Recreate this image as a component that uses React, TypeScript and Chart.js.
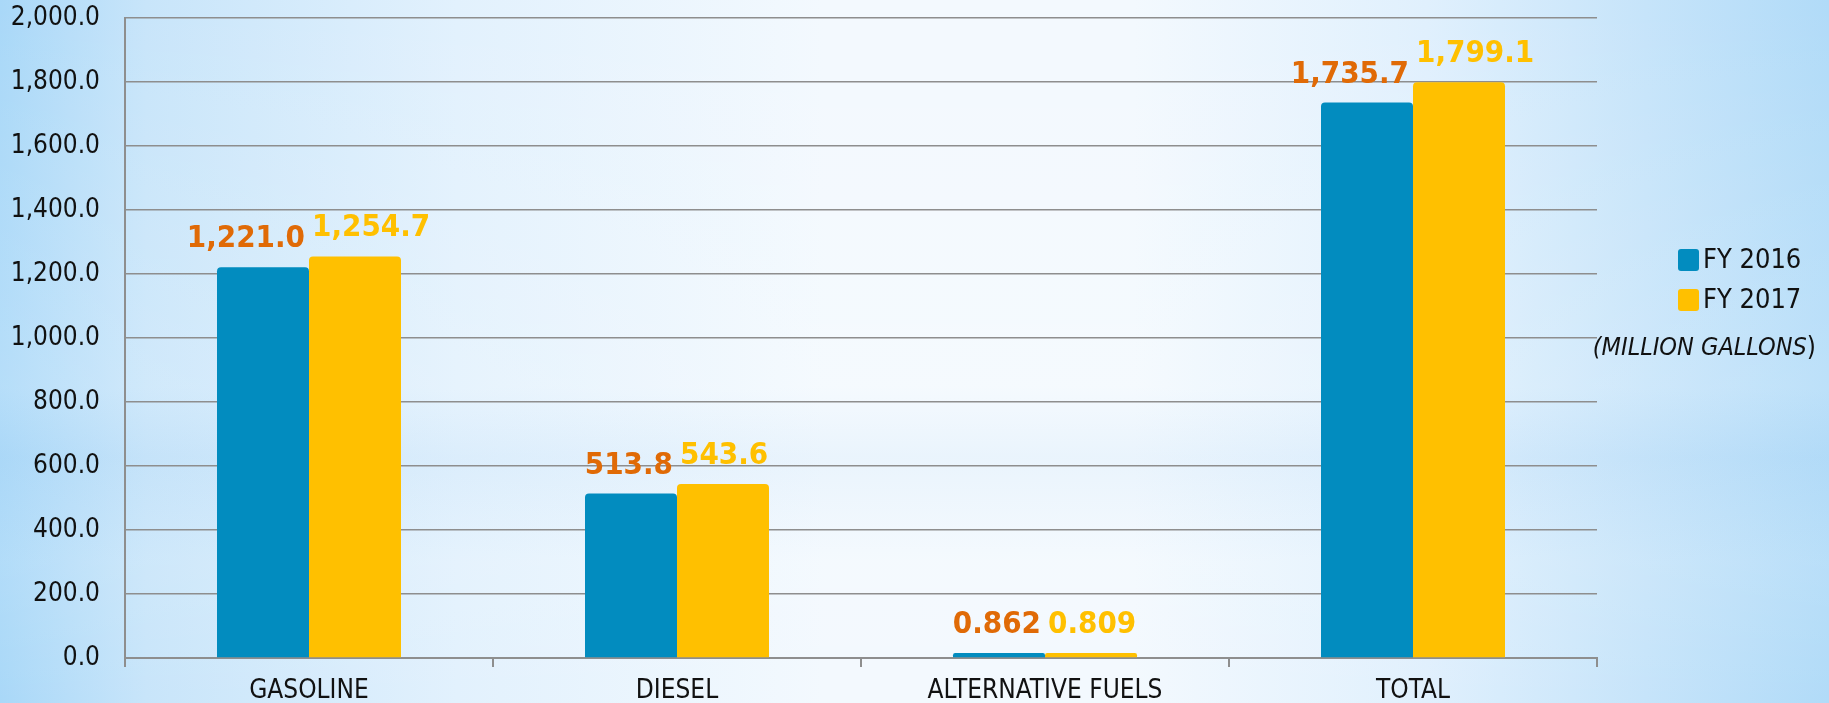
import { useEffect, useRef } from "react";
import { Chart, registerables } from "chart.js";

Chart.register(...registerables);

const categories = ["GASOLINE", "DIESEL", "ALTERNATIVE FUELS", "TOTAL"];
const seriesNames = ["FY 2016", "FY 2017"];
const fy2016 = [1221.0, 513.8, 0.862, 1735.7];
const fy2017 = [1254.7, 543.6, 0.809, 1799.1];
const labels2016 = ["1,221.0", "513.8", "0.862", "1,735.7"];
const labels2017 = ["1,254.7", "543.6", "0.809", "1,799.1"];
const unitText = "MILLION GALLONS";
const yMin = 0;
const yMax = 2000;
const yStep = 200;

const FONT = '"DejaVu Sans Condensed", "DejaVu Sans", sans-serif';
const BLUE = "#028cbf";
const YELLOW = "#ffc000";
const ORANGE = "#e06a06";
const GRID = "#8e8e8e";

const dataLabelPlugin = {
  id: "dataLabelPlugin",
  afterDatasetsDraw(chart: any) {
    const ctx = chart.ctx;
    ctx.save();
    ctx.font = `bold 31px ${FONT}`;
    ctx.textBaseline = "alphabetic";
    const all = [labels2016, labels2017];
    chart.data.datasets.forEach((_ds: any, di: number) => {
      const meta = chart.getDatasetMeta(di);
      meta.data.forEach((el: any, i: number) => {
        const txt = all[di][i];
        const half = el.width / 2;
        if (di === 0) {
          ctx.fillStyle = ORANGE;
          ctx.textAlign = "right";
          ctx.fillText(txt, el.x + half - 4, el.y - 20);
        } else {
          ctx.fillStyle = YELLOW;
          ctx.textAlign = "left";
          ctx.fillText(txt, el.x - half + 3, el.y - 20);
        }
      });
    });
    ctx.restore();
  },
};

const legendPlugin = {
  id: "customLegend",
  afterDraw(chart: any) {
    const ctx = chart.ctx;
    const area = chart.chartArea;
    ctx.save();
    const boxX = area.right + 81;
    const rows = [260, 300];
    chart.data.datasets.forEach((ds: any, i: number) => {
      const cy = rows[i];
      ctx.fillStyle = ds.backgroundColor;
      ctx.beginPath();
      (ctx as any).roundRect(boxX, cy - 11, 21, 22, 3);
      ctx.fill();
      ctx.fillStyle = "#111";
      ctx.font = `27px ${FONT}`;
      ctx.textAlign = "left";
      ctx.textBaseline = "middle";
      ctx.fillText(ds.label, boxX + 25, cy + 1);
    });
    ctx.font = `26px ${FONT}`;
    const close = ")";
    const wClose = ctx.measureText(close).width;
    const right = 1816;
    ctx.textAlign = "right";
    ctx.textBaseline = "middle";
    ctx.fillText(close, right, 348);
    ctx.font = `italic 25px ${FONT}`;
    ctx.fillText("(" + unitText, right - wClose, 348);
    ctx.restore();
  },
};

export default function App() {
  const ref = useRef<HTMLCanvasElement | null>(null);

  useEffect(() => {
    document.body.style.margin = "0";
    const canvas = ref.current;
    if (!canvas) return;
    const chart = new Chart(canvas, {
      type: "bar",
      data: {
        labels: categories,
        datasets: [
          {
            label: seriesNames[0],
            data: fy2016,
            backgroundColor: BLUE,
            borderRadius: { topLeft: 4, topRight: 4, bottomLeft: 0, bottomRight: 0 },
            borderSkipped: "bottom",
            categoryPercentage: 0.5,
            barPercentage: 1.0,
            minBarLength: 5,
          },
          {
            label: seriesNames[1],
            data: fy2017,
            backgroundColor: YELLOW,
            borderRadius: { topLeft: 4, topRight: 4, bottomLeft: 0, bottomRight: 0 },
            borderSkipped: "bottom",
            categoryPercentage: 0.5,
            barPercentage: 1.0,
            minBarLength: 5,
          },
        ],
      },
      options: {
        animation: false,
        responsive: true,
        maintainAspectRatio: false,
        layout: { padding: { top: 18, right: 232, left: 0, bottom: 0 } },
        plugins: {
          legend: { display: false },
          tooltip: { enabled: false },
        },
        scales: {
          x: {
            grid: {
              display: true,
              drawOnChartArea: false,
              drawTicks: true,
              tickLength: 9,
              color: GRID,
              lineWidth: 2,
              offset: true,
            },
            border: { display: true, color: GRID, width: 2 },
            ticks: {
              color: "#111",
              font: { family: FONT, size: 26 },
              padding: 9,
              maxRotation: 0,
            },
            afterFit(scale: any) {
              scale.height = 45;
              scale.paddingLeft = 0;
              scale.paddingRight = 0;
            },
          },
          y: {
            min: yMin,
            max: yMax,
            grid: { color: GRID, lineWidth: 1.5, drawTicks: false },
            border: { display: true, color: GRID, width: 2 },
            ticks: {
              stepSize: yStep,
              color: "#111",
              font: { family: FONT, size: 26 },
              padding: 25,
              callback: (v: any) =>
                Number(v).toLocaleString("en-US", {
                  minimumFractionDigits: 1,
                  maximumFractionDigits: 1,
                }),
            },
            afterFit(scale: any) {
              scale.width = 125;
              scale.paddingTop = 0;
              scale.paddingBottom = 0;
            },
          },
        },
      },
      plugins: [dataLabelPlugin, legendPlugin],
    });
    return () => chart.destroy();
  }, []);

  return (
    <div
      style={{
        width: 1829,
        height: 703,
        position: "relative",
        background:
          "linear-gradient(to right, #a9d8f8 0%, #c8e5fa 8%, #e2f1fd 25%, #f3f9fe 45%, #f3f9fe 62%, #e0f0fd 78%, #c6e4fa 90%, #b1dbf8 100%)",
      }}
    >
      <div
        style={{
          position: "absolute",
          inset: 0,
          background:
            "linear-gradient(to bottom, rgba(255,255,255,0) 0%, rgba(255,255,255,0.15) 55%, rgba(180,215,245,0.15) 65%, rgba(255,255,255,0.1) 80%, rgba(255,255,255,0) 100%)",
        }}
      />
      <canvas ref={ref} style={{ position: "relative" }} />
    </div>
  );
}
